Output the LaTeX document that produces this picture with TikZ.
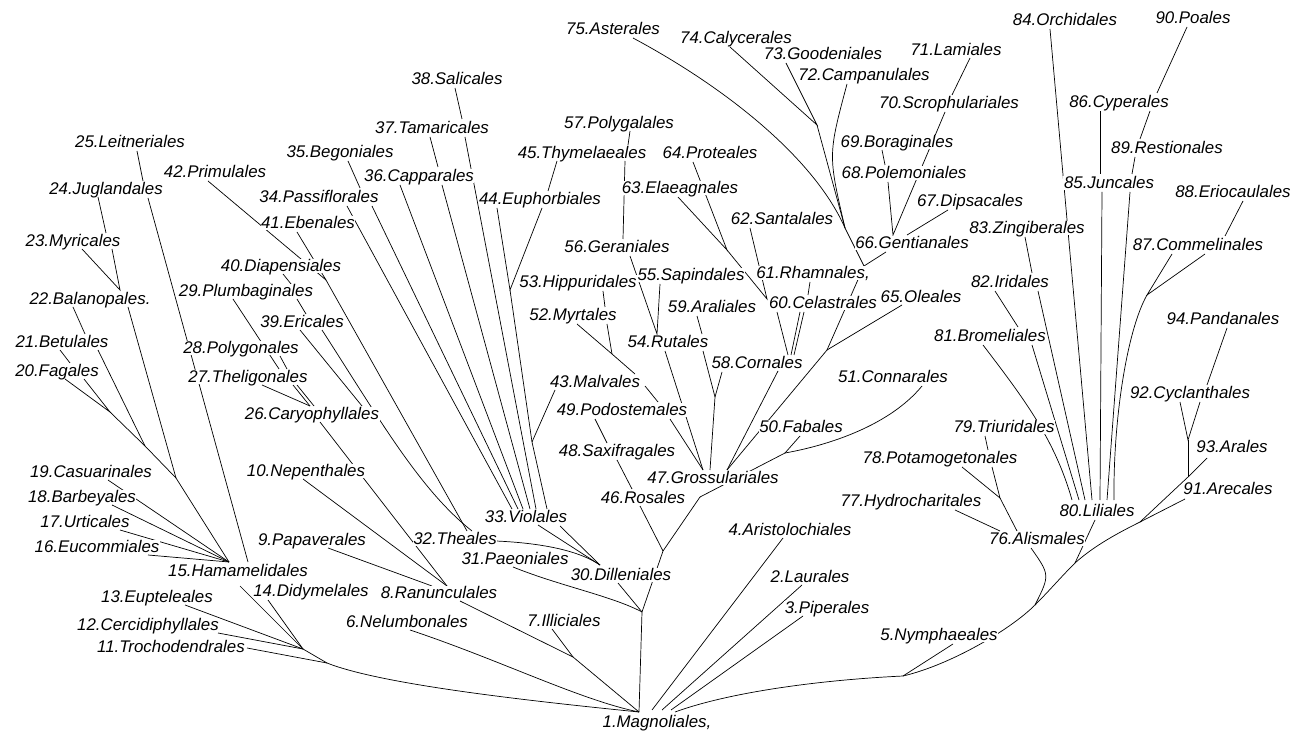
\documentclass[tikz,border=0pt]{standalone}
\usepackage{fontspec}
\newfontfamily\ordfont{Liberation Sans}
\usetikzlibrary{backgrounds}

\begin{document}
\begin{tikzpicture}[x=0.02cm, y=-0.02cm,
  taxon/.style={font=\ordfont\itshape\fontsize{9.6}{11}\selectfont, text height=6.8pt, text depth=1pt, inner sep=0.3pt, fill=white},
  limb/.style={line width=1.25pt, line cap=round, line join=round}
]
\useasboundingbox (0,0) rectangle (1295,736);

% orders
\node[taxon] (mag) at (657,722) {1.Magnoliales,};
\node[taxon] (lau) at (810,577) {2.Laurales};
\node[taxon] (pip) at (827,608) {3.Piperales};
\node[taxon] (ari) at (790,530) {4.Aristolochiales};
\node[taxon] (nym) at (939,635) {5.Nymphaeales};
\node[taxon] (nel) at (407,622) {6.Nelumbonales};
\node[taxon] (ill) at (564,621) {7.Illiciales};
\node[taxon] (ran) at (439,593) {8.Ranunculales};
\node[taxon] (pap) at (312,540) {9.Papaverales};
\node[taxon] (nep) at (306,471) {10.Nepenthales};
\node[taxon] (tro) at (171,647) {11.Trochodendrales};
\node[taxon] (cer) at (148,625) {12.Cercidiphyllales};
\node[taxon] (eup) at (157,597) {13.Eupteleales};
\node[taxon] (did) at (311,591) {14.Didymelales};
\node[taxon] (ham) at (238,571) {15.Hamamelidales};
\node[taxon] (euc) at (97,547) {16.Eucommiales};
\node[taxon] (urt) at (85,522) {17.Urticales};
\node[taxon] (bar) at (82,497) {18.Barbeyales};
\node[taxon] (cas) at (91,472) {19.Casuarinales};
\node[taxon] (fag) at (57,371) {20.Fagales};
\node[taxon] (bet) at (62,342) {21.Betulales};
\node[taxon] (bal) at (90,299) {22.Balanopales.};
\node[taxon] (myr) at (73,241) {23.Myricales};
\node[taxon] (jug) at (106,189) {24.Juglandales};
\node[taxon] (lei) at (130,142) {25.Leitneriales};
\node[taxon] (car) at (312,414) {26.Caryophyllales};
\node[taxon] (the) at (248,377) {27.Theligonales};
\node[taxon] (pol) at (241,348) {28.Polygonales};
\node[taxon] (plu) at (246,291) {29.Plumbaginales};
\node[taxon] (dil) at (621,575) {30.Dilleniales};
\node[taxon] (pae) at (515,559) {31.Paeoniales};
\node[taxon] (thea) at (455,539) {32.Theales};
\node[taxon] (vio) at (526,517) {33.Violales};
\node[taxon] (pas) at (319,197) {34.Passiflorales};
\node[taxon] (beg) at (340,152) {35.Begoniales};
\node[taxon] (cap) at (419,176) {36.Capparales};
\node[taxon] (tam) at (432,128) {37.Tamaricales};
\node[taxon] (sal) at (457,79) {38.Salicales};
\node[taxon] (eri) at (302,322) {39.Ericales};
\node[taxon] (dia) at (281,266) {40.Diapensiales};
\node[taxon] (ebe) at (308,223) {41.Ebenales};
\node[taxon] (pri) at (215,172) {42.Primulales};
\node[taxon] (mal) at (595,382) {43.Malvales};
\node[taxon] (eph) at (540,199) {44.Euphorbiales};
\node[taxon] (thy) at (582,153) {45.Thymelaeales};
\node[taxon] (ros) at (643,498) {46.Rosales};
\node[taxon] (gro) at (713,478) {47.Grossulariales};
\node[taxon] (sax) at (617,451) {48.Saxifragales};
\node[taxon] (pod) at (622,410) {49.Podostemales};
\node[taxon] (fab) at (801,427) {50.Fabales};
\node[taxon] (con) at (893,377) {51.Connarales};
\node[taxon] (myt) at (573,315) {52.Myrtales};
\node[taxon] (hip) at (578,282) {53.Hippuridales};
\node[taxon] (rut) at (668,342) {54.Rutales};
\node[taxon] (sap) at (691,275) {55.Sapindales};
\node[taxon] (ger) at (617,247) {56.Geraniales};
\node[taxon] (plg) at (619,123) {57.Polygalales};
\node[taxon] (cor) at (757,363) {58.Cornales};
\node[taxon] (ara) at (712,307) {59.Araliales};
\node[taxon] (cel) at (823,303) {60.Celastrales};
\node[taxon] (rha) at (813,273) {61.Rhamnales,};
\node[taxon] (san) at (782,219) {62.Santalales};
\node[taxon] (ela) at (680,188) {63.Elaeagnales};
\node[taxon] (pro) at (710,153) {64.Proteales};
\node[taxon] (ole) at (921,297) {65.Oleales};
\node[taxon] (gen) at (912,243) {66.Gentianales};
\node[taxon] (dip) at (970,201) {67.Dipsacales};
\node[taxon] (ple) at (904,173) {68.Polemoniales};
\node[taxon] (bor) at (897,142) {69.Boraginales};
\node[taxon] (scr) at (949,103) {70.Scrophulariales};
\node[taxon] (lam) at (956,50) {71.Lamiales};
\node[taxon] (cam) at (864,75) {72.Campanulales};
\node[taxon] (goo) at (823,54) {73.Goodeniales};
\node[taxon] (caly) at (736,38) {74.Calycerales};
\node[taxon] (ast) at (613,29) {75.Asterales};
\node[taxon] (ali) at (1037,539) {76.Alismales};
\node[taxon] (hyd) at (911,501) {77.Hydrocharitales};
\node[taxon] (pot) at (940,458) {78.Potamogetonales};
\node[taxon] (tri) at (1004,427) {79.Triuridales};
\node[taxon] (lil) at (1097,511) {80.Liliales};
\node[taxon] (bro) at (990,336) {81.Bromeliales};
\node[taxon] (iri) at (1010,282) {82.Iridales};
\node[taxon] (zin) at (1027,228) {83.Zingiberales};
\node[taxon] (orc) at (1065,20) {84.Orchidales};
\node[taxon] (jun) at (1109,183) {85.Juncales};
\node[taxon] (cyp) at (1119,102) {86.Cyperales};
\node[taxon] (com) at (1198,245) {87.Commelinales};
\node[taxon] (eco) at (1233,192) {88.Eriocaulales};
\node[taxon] (res) at (1167,148) {89.Restionales};
\node[taxon] (poa) at (1193,18) {90.Poales};
\node[taxon] (are) at (1228,489) {91.Arecales};
\node[taxon] (cyc) at (1190,393) {92.Cyclanthales};
\node[taxon] (arl) at (1232,447) {93.Arales};
\node[taxon] (pan) at (1223,319) {94.Pandanales};

\begin{scope}[on background layer, limb]
% root
\coordinate (r1) at (639,712); \coordinate (r2) at (652,710);
\coordinate (r3) at (662,710); \coordinate (r4) at (671,710);
\coordinate (r5) at (675,712);

% hamamelid branch
\coordinate (h0) at (327,663); \coordinate (h1) at (303,649);
\coordinate (ht) at (229,562); \coordinate (ht2) at (248,562);
\coordinate (j20) at (110,412); \coordinate (j21) at (145,446);
\coordinate (j22) at (176,478); \coordinate (j23) at (120,290);
\coordinate (tro-e) at (247,648); \coordinate (cer-e) at (218,633);
\coordinate (eup-e) at (185,605); \coordinate (ham-b) at (240,586);
\coordinate (did-b) at (268,600); \coordinate (euc-e) at (148,555);
\coordinate (urt-e) at (120,530); \coordinate (bar-e) at (112,505);
\coordinate (cas-e) at (108,480); \coordinate (jug-b) at (148,198);
\coordinate (jug-t) at (143,181); \coordinate (jug-l) at (98,197);
\coordinate (lei-b) at (137,151); \coordinate (myr-t) at (106,233);
\coordinate (myr-l) at (82,249); \coordinate (myr-r) at (112,249);
\coordinate (bal-l) at (73,307); \coordinate (bal-r) at (128,307);
\coordinate (bet-t) at (85,334); \coordinate (bet-l) at (60,350);
\coordinate (bet-r) at (98,350); \coordinate (fag-t) at (70,363);
\coordinate (fag-l) at (65,379); \coordinate (fag-r) at (84,379);

\draw (h0) .. controls (380,684) and (520,700) .. (r1);
\draw (tro-e) -- (h0);
\draw (h1) -- (h0);
\foreach \c in {cer-e,eup-e,ham-b,did-b} \draw (\c) -- (h1);
\foreach \c in {euc-e,urt-e,bar-e,cas-e,j22} \draw (\c) -- (ht);
\draw (jug-b) -- (ht2);
\draw (lei-b) -- (jug-t);
\draw (jug-l) -- (myr-t);
\draw (myr-l) -- (j23) -- (myr-r);
\draw (bal-l) -- (bet-t);
\draw (bet-l) -- (fag-t);
\draw (fag-l) -- (j20) -- (fag-r);
\draw (j20) -- (j21) -- (j22);
\draw (bet-r) -- (j21);
\draw (bal-r) -- (j22);

% ranunculid, caryophyllid and dilleniid branches
\coordinate (j7) at (573,657); \coordinate (j40) at (326,280);
\coordinate (j31) at (642,612); \coordinate (j43) at (532,442);
\coordinate (j44) at (510,290); \coordinate (j46) at (663,551);
\coordinate (j47) at (700,497);
\coordinate (pap-e) at (328,548); \coordinate (nep-b) at (303,479);
\coordinate (car-b) at (320,422); \coordinate (ran-t1) at (432,586);
\coordinate (ran-t2) at (447,586); \coordinate (ran-b) at (460,601);
\coordinate (ill-b) at (552,629); \coordinate (nel-b) at (410,630);
\coordinate (dia-b) at (283,274); \coordinate (plu-t) at (291,284);
\coordinate (plu-r) at (297,299); \coordinate (plu-l) at (233,299);
\coordinate (eri-t) at (306,314); \coordinate (pol-r) at (280,356);
\coordinate (the-t) at (279,369); \coordinate (the-t2) at (287,369);
\coordinate (the-b1) at (262,385); \coordinate (the-b2) at (293,385);
\coordinate (the-b3) at (297,385);
\coordinate (car-t) at (310,406); \coordinate (car-t2) at (362,406);
\coordinate (car-t3) at (314,406);
\coordinate (eri-b1) at (300,330); \coordinate (eri-b2) at (322,330);
\coordinate (thea-t1) at (472,531); \coordinate (thea-t2) at (467,531);
\coordinate (thea-e) at (496,541);
\coordinate (pri-b) at (208,181); \coordinate (ebe-b) at (297,232);
\coordinate (dil-t) at (600,565); \coordinate (dil-b) at (618,583);
\coordinate (vio-b1) at (538,525); \coordinate (vio-b2) at (560,526);
\coordinate (pae-b) at (513,567); \coordinate (ros-b) at (640,506);

\draw (pap-e) -- (ran-t1);
\draw (nep-b) -- (ran-t2);
\draw (car-b) -- (ran-t2);
\draw (ran-b) -- (j7) -- (r1);
\draw (ill-b) -- (j7);
\draw (nel-b) .. controls (500,660) and (580,700) .. (r1);
\draw (dia-b) -- (plu-t);
\draw (plu-r) -- (eri-t);
\draw (plu-l) -- (the-t);
\draw (pol-r) -- (the-t2);
\draw (the-b1) -- (car-t);
\draw (the-b2) -- (car-t);
\draw (the-b3) -- (car-t3);
\draw (eri-b1) -- (car-t2);
\draw (eri-b2) .. controls (380,420) and (420,490) .. (thea-t1);
\draw (pri-b) -- (j40);
\draw (ebe-b) -- (j40);
\draw (j40) -- (thea-t2);
\draw (thea-e) .. controls (540,543) and (578,550) .. (dil-t);
\draw (vio-b1) -- (dil-t);
\draw (vio-b2) -- (dil-t);
\draw (pae-b) .. controls (560,586) and (612,596) .. (j31);
\draw (dil-b) -- (j31) -- (r1);
\draw (ros-b) -- (j46) -- (j31);
\draw (j47) -- (j46);

% orders above Violales
\coordinate (vio-t1) at (512,509); \coordinate (vio-t2) at (518,509);
\coordinate (vio-t3) at (523,509); \coordinate (vio-t4) at (530,509);
\coordinate (vio-t5) at (536,509); \coordinate (vio-t6) at (547,509);
\coordinate (pas-b1) at (347,206); \coordinate (pas-b2) at (372,206);
\coordinate (cap-b1) at (400,185); \coordinate (cap-b2) at (442,185);
\coordinate (tam-b) at (465,137); \coordinate (eph-b1) at (497,208);
\coordinate (eph-b2) at (542,208); \coordinate (mal-l) at (555,390);
\coordinate (beg-b) at (348,161); \coordinate (pas-t) at (360,188);
\coordinate (tam-l) at (430,137); \coordinate (cap-t) at (438,167);
\coordinate (sal-b) at (455,88); \coordinate (tam-t) at (462,119);
\coordinate (thy-b) at (557,161); \coordinate (eph-t) at (548,191);
\coordinate (plg-b) at (630,131); \coordinate (thy-t) at (628,145);
\coordinate (thy-r) at (625,161); \coordinate (ger-t) at (623,239);

\foreach \a/\b in {pas-b1/vio-t1,pas-b2/vio-t2,cap-b1/vio-t3,cap-b2/vio-t4,tam-b/vio-t5}
  \draw (\a) -- (\b);
\draw (eph-b1) -- (j44) -- (eph-b2);
\draw (j44) -- (j43) -- (vio-t6);
\draw (mal-l) -- (j43);
\draw (beg-b) -- (pas-t);
\draw (tam-l) -- (cap-t);
\draw (sal-b) -- (tam-t);
\draw (thy-b) -- (eph-t);
\draw (plg-b) -- (thy-t);
\draw (thy-r) -- (ger-t);

% rosid branch
\coordinate (ger-b) at (630,256); \coordinate (sap-b) at (660,284);
\coordinate (rut-t) at (657,334); \coordinate (ara-b) at (697,316);
\coordinate (rut-t2) at (702,334); \coordinate (rut-b1) at (665,351);
\coordinate (rut-b2) at (703,351); \coordinate (j58) at (715,397);
\coordinate (cor-b) at (722,372); \coordinate (cor-r) at (778,371);
\coordinate (gro-t1) at (710,470); \coordinate (gro-t2) at (703,470);
\coordinate (gro-t3) at (727,470); \coordinate (pod-e) at (670,419);
\coordinate (pod-t) at (658,402); \coordinate (pod-l) at (595,419);
\coordinate (mal-e) at (645,386); \coordinate (mal-t) at (635,374);
\coordinate (myt-l) at (577,324); \coordinate (myt-r) at (607,324);
\coordinate (myt-t) at (605,307); \coordinate (hip-b) at (603,291);
\coordinate (j52) at (612,354); \coordinate (sax-t) at (607,443);
\coordinate (sax-b) at (617,460); \coordinate (ros-t) at (632,489);
\coordinate (j50) at (785,453); \coordinate (fab-b) at (800,436);
\coordinate (con-b) at (922,386); \coordinate (j65) at (827,350);

\draw (ger-b) -- (rut-t) -- (sap-b);
\draw (ara-b) -- (rut-t2);
\draw (rut-b2) -- (j58) -- (gro-t1);
\draw (cor-b) -- (j58);
\draw (rut-b1) -- (gro-t2);
\draw (pod-e) -- (gro-t2);
\draw (mal-e) -- (pod-t);
\draw (myt-l) -- (j52) -- (mal-t);
\draw (myt-r) -- (j52);
\draw (hip-b) -- (myt-t);
\draw (pod-l) -- (sax-t);
\draw (sax-b) -- (ros-t);
\draw (cor-r) -- (gro-t3);
\draw (j65) -- (gro-t3);
\draw (fab-b) -- (j50) -- (j47);
\draw (con-b) .. controls (890,425) and (830,445) .. (j50);

% celastrid and asterid branches
\coordinate (cel-b1) at (777,312); \coordinate (cel-b2) at (800,312);
\coordinate (cel-b3) at (804,312); \coordinate (cor-t1) at (788,355);
\coordinate (cor-t2) at (791,355); \coordinate (cor-t3) at (794,355);
\coordinate (ela-b) at (678,197); \coordinate (pro-b) at (693,162);
\coordinate (j64) at (727,250); \coordinate (cel-l) at (767,299);
\coordinate (san-b) at (750,228); \coordinate (rha-b) at (810,282);
\coordinate (cel-t) at (808,295); \coordinate (ole-b) at (902,305);
\coordinate (gen-b) at (886,252); \coordinate (j61) at (864,266);
\coordinate (j72) at (845,228); \coordinate (j73) at (817,125);
\coordinate (ast-b) at (633,38); \coordinate (caly-b) at (730,47);
\coordinate (goo-b) at (786,63); \coordinate (cam-b) at (847,84);
\coordinate (dip-b) at (948,210); \coordinate (gen-t1) at (893,235);
\coordinate (gen-t2) at (907,235); \coordinate (ple-b) at (888,182);
\coordinate (scr-b) at (945,112); \coordinate (lam-b) at (970,58);
\coordinate (scr-t) at (952,95); \coordinate (bor-b) at (882,150);
\coordinate (ple-t) at (885,165);

\draw (cel-b1) -- (cor-t1);
\draw (cel-b2) -- (cor-t2);
\draw (cel-b3) -- (cor-t3);
\draw (ela-b) -- (j64) -- (pro-b);
\draw (j64) -- (cel-l) -- (san-b);
\draw (rha-b) -- (cel-t);
\draw (ole-b) -- (j65);
\draw (gen-b) -- (j61) -- (j65);
\draw (ast-b) .. controls (730,90) and (815,160) .. (j72);
\draw (caly-b) -- (j73) -- (goo-b);
\draw (j73) -- (j72) -- (j61);
\draw (cam-b) .. controls (828,155) .. (j72);
\draw (dip-b) -- (gen-t2);
\draw (ple-b) -- (gen-t1) -- (scr-b);
\draw (lam-b) -- (scr-t);
\draw (bor-b) -- (ple-t);

% monocots and the lower branches
\coordinate (j5) at (903,676); \coordinate (j76) at (1035,605);
\coordinate (j80) at (1075,563); \coordinate (j91) at (1140,522);
\coordinate (j92) at (1188,440); \coordinate (j92b) at (1188,477);
\coordinate (arl-b) at (1207,458); \coordinate (nym-b) at (953,644);
\coordinate (ali-b) at (1031,548); \coordinate (ali-t) at (1017,531);
\coordinate (ali-t2) at (1000,531); \coordinate (jpot) at (1000,498);
\coordinate (pot-b1) at (962,467); \coordinate (pot-b2) at (992,467);
\coordinate (hyd-b) at (955,510); \coordinate (tri-b) at (985,436);
\coordinate (pot-t) at (988,450); \coordinate (lil-b) at (1095,520);
\coordinate (are-b) at (1185,499); \coordinate (cyc-b1) at (1180,402);
\coordinate (cyc-b2) at (1200,402); \coordinate (pan-b) at (1227,328);
\coordinate (cyc-t) at (1207,385);
\coordinate (lil-t1) at (1072,500); \coordinate (lil-t2) at (1079,500);
\coordinate (lil-t3) at (1085,500); \coordinate (lil-t4) at (1092,500);
\coordinate (lil-t5) at (1100,500); \coordinate (lil-t6) at (1107,500);
\coordinate (lil-t7) at (1114,500);
\coordinate (bro-b1) at (983,345); \coordinate (bro-b2) at (1032,345);
\coordinate (bro-t) at (1018,327); \coordinate (iri-l) at (995,291);
\coordinate (iri-b) at (1038,291); \coordinate (iri-t) at (1032,273);
\coordinate (zin-b) at (1025,237); \coordinate (orc-b) at (1050,29);
\coordinate (cyp-b) at (1100,111); \coordinate (jun-t) at (1100,174);
\coordinate (jun-t2) at (1132,174); \coordinate (jun-b1) at (1102,192);
\coordinate (jun-b2) at (1130,192); \coordinate (cyp-r) at (1157,93);
\coordinate (cyp-r2) at (1150,111); \coordinate (poa-b) at (1187,27);
\coordinate (res-t) at (1140,139); \coordinate (res-b) at (1135,157);
\coordinate (j87) at (1147,295); \coordinate (com-b1) at (1172,254);
\coordinate (com-b2) at (1205,254); \coordinate (com-t) at (1225,236);
\coordinate (eco-b) at (1243,201);
\coordinate (ari-b) at (783,538); \coordinate (lau-b) at (802,585);
\coordinate (pip-b) at (803,616);

\draw (nym-b) -- (j5);
\draw (j5) .. controls (820,680) and (730,692) .. (r5);
\draw (j5) .. controls (950,665) and (1010,630) .. (j76)
  .. controls (1050,590) and (1060,578) .. (j80)
  .. controls (1095,545) and (1120,532) .. (j91) -- (j92b) -- (arl-b);
\draw (ali-b) .. controls (1050,575) .. (j76);
\draw (lil-b) -- (j80);
\draw (are-b) -- (j91);
\draw (cyc-b1) -- (j92) -- (cyc-b2);
\draw (j92) -- (j92b);
\draw (pan-b) -- (cyc-t);
\draw (pot-b1) -- (jpot) -- (pot-b2);
\draw (jpot) -- (ali-t);
\draw (hyd-b) -- (ali-t2);
\draw (tri-b) -- (pot-t);
\draw (bro-b1) .. controls (1025,400) and (1055,440) .. (lil-t1);
\draw (bro-b2) -- (lil-t2);
\draw (iri-b) -- (lil-t3);
\draw (iri-l) -- (bro-t);
\draw (zin-b) -- (iri-t);
\draw (orc-b) -- (lil-t4);
\draw (cyp-b) -- (jun-t);
\draw (jun-b1) -- (lil-t5);
\draw (jun-b2) -- (lil-t6);
\draw (poa-b) -- (cyp-r);
\draw (cyp-r2) -- (res-t);
\draw (res-b) -- (jun-t2);
\draw (j87) .. controls (1127,330) and (1113,420) .. (lil-t7);
\draw (com-b1) -- (j87) -- (com-b2);
\draw (eco-b) -- (com-t);
\draw (ari-b) -- (r2);
\draw (lau-b) -- (r3);
\draw (pip-b) -- (r4);
\end{scope}
\end{tikzpicture}
\end{document}
